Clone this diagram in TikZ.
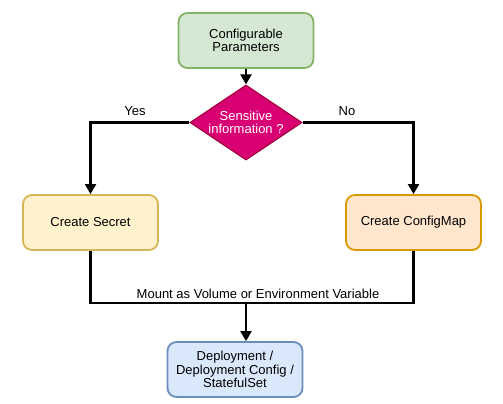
\documentclass[tikz,border=0pt]{standalone}
\usepackage{fontspec}
\setmainfont{Liberation Sans}
\usetikzlibrary{shapes.geometric,arrows.meta}
\definecolor{gfill}{HTML}{D5E8D4}\definecolor{gdraw}{HTML}{82B366}
\definecolor{pfill}{HTML}{D80073}\definecolor{pdraw}{HTML}{A50040}
\definecolor{yfill}{HTML}{FFF2CC}\definecolor{ydraw}{HTML}{D6B656}
\definecolor{ofill}{HTML}{FFE6CC}\definecolor{odraw}{HTML}{D79B00}
\definecolor{bfill}{HTML}{DAE8FC}\definecolor{bdraw}{HTML}{6C8EBF}
\begin{document}
\begin{tikzpicture}[x=1pt,y=-1pt,
  every node/.style={font=\fontsize{13}{13.5}\selectfont},
  box/.style={rounded corners=9pt, line width=1.8pt, minimum width=135pt, minimum height=55pt, align=center, inner sep=0pt},
  conn/.style={line width=2.2pt},
  arr/.style={conn,-{Triangle[length=10pt,width=11pt]}}]
\useasboundingbox (0,0) rectangle (503,404);
\node[box, fill=gfill, draw=gdraw] (params) at (246,40.5) {Configurable\\Parameters};
\node[diamond, aspect=1.5, minimum width=112pt, minimum height=75pt, inner sep=0pt,
      fill=pfill, draw=pdraw, line width=1.2pt, text=white, align=center] (sens) at (246,122.5) {Sensitive\\information ?};
\node[box, fill=yfill, draw=ydraw] (secret) at (90.5,222.5) {Create Secret};
\node[box, fill=ofill, draw=odraw] (cmap) at (413.5,222.5) {Create ConfigMap};
\node[box, fill=bfill, draw=bdraw] (deploy) at (235,369.5) {Deployment /\\Deployment Config /\\StatefulSet};
\coordinate (m) at (246,303);
\draw[arr] (params) -- (sens);
\draw[arr] (sens.west) -| node[pos=0.275, above=2pt] {Yes} (secret.north);
\draw[arr] (sens.east) -| node[pos=0.2, above=2pt] {No} (cmap.north);
\draw[conn] (secret.south) |- (m) -| (cmap.south);
\node[above=1pt] (mlabel) at (258,303) {Mount as Volume or Environment Variable};
\draw[arr] (m) -- (m |- deploy.north);
\end{tikzpicture}
\end{document}
